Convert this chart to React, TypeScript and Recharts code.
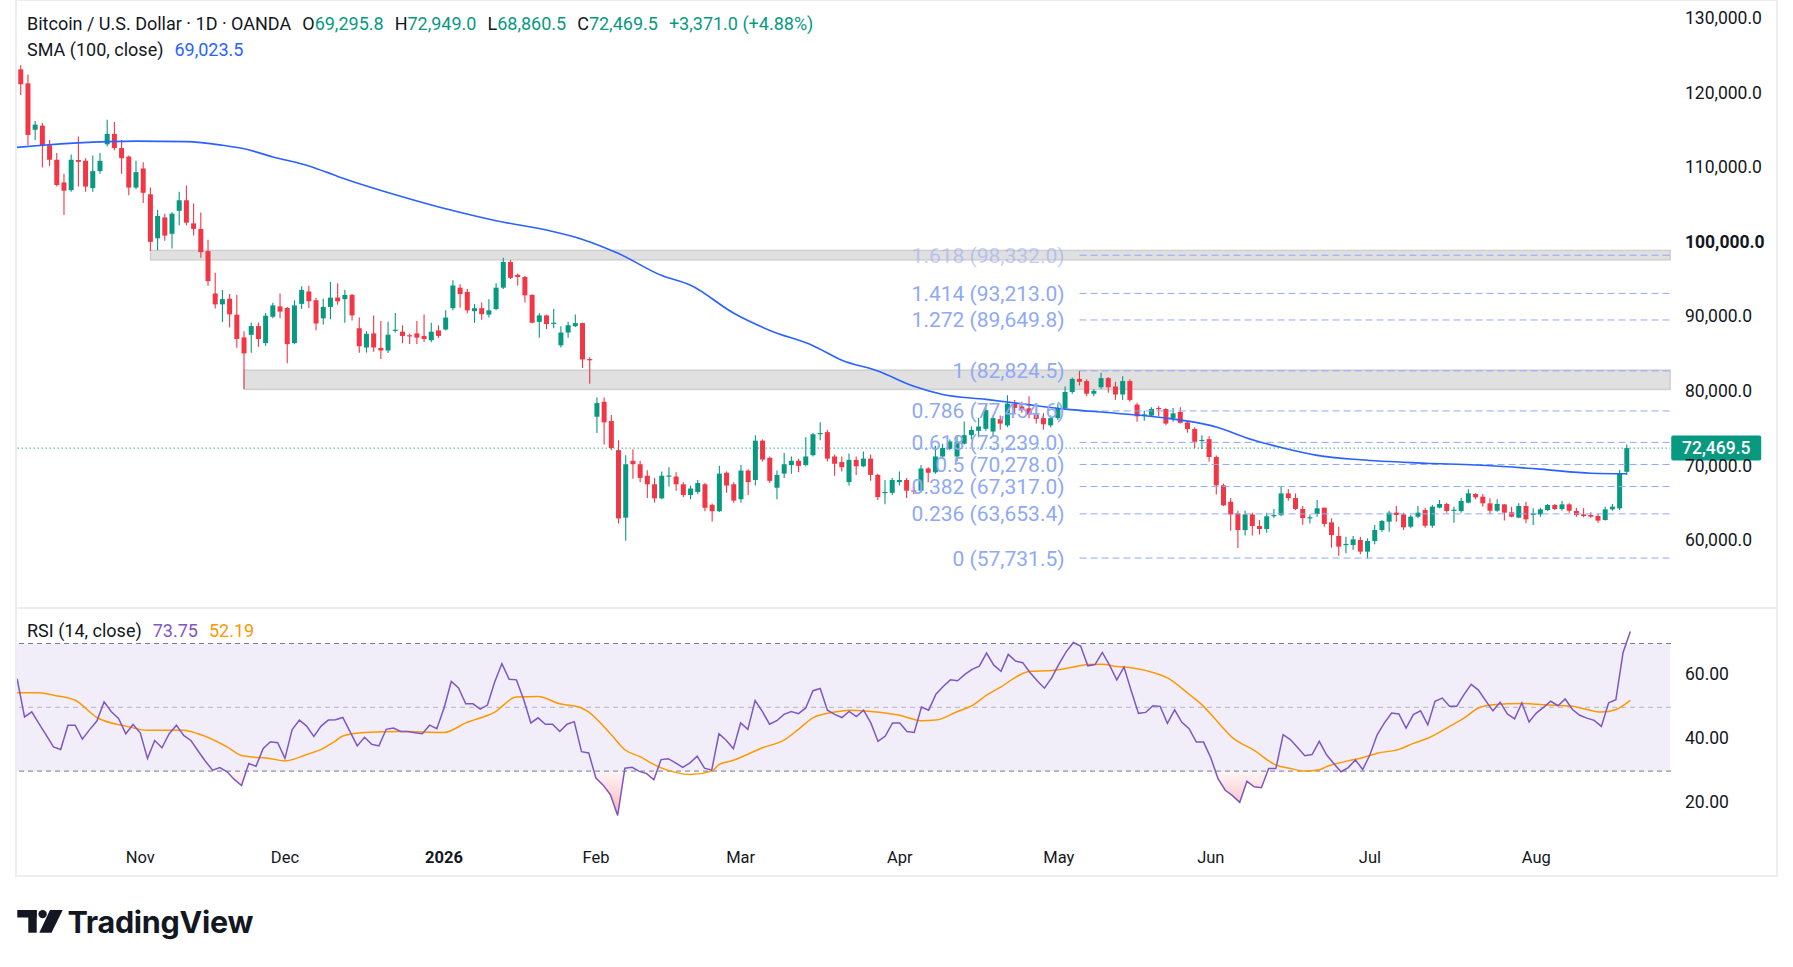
import React from "react";
import { Area, Bar, ComposedChart, Line, ReferenceArea, ReferenceLine, XAxis, YAxis } from "recharts";

const FONT = "Roboto, 'Noto Sans', sans-serif";
const UP = "#089981";
const DOWN = "#f23645";
const TEXT = "#131722";

// daily OHLC, thousands of USD (weekday sessions, first = 2025-10-08)
const opens = [
  122.1, 123.25, 121.38, 115.15, 115.7, 113.07, 111.13, 108.09, 107.05, 111.1, 110.99, 107.33, 109.61, 113.2, 114.6,
  112.7, 111.55, 107.4, 109.96, 106.5, 100.6, 103.4, 101.2, 104.28, 105.7, 102.6, 101.86, 98.88, 93.2, 91.74,
  92.5, 90.36, 87.31, 87.66, 88.83, 86.55, 90.08, 91.47, 91.26, 86.55, 91.81, 93.47, 92.3, 89.87, 91.4,
  92.66, 92.44, 93.01, 88.54, 85.96, 87.85, 85.9, 85.56, 88.3, 88.08, 87.6, 87.85, 87.51, 86.93, 88.25,
  88.37, 91.23, 93.98, 93.41, 90.83, 91.23, 90.37, 91.12, 93.98, 97.42, 95.7, 95.41, 93.01, 89.4, 90.26,
  89.17, 86.25, 87.97, 88.82, 89.23, 84.41, 76.68, 78.68, 76.1, 72.2, 63.15, 70.77, 70.31, 68.77, 67.62,
  65.73, 68.74, 68.66, 67.62, 66.19, 66.59, 67.62, 64.87, 64.01, 69.17, 67.62, 65.62, 69.46, 68.2, 73.47,
  71.17, 67.16, 69.05, 70.2, 70.77, 70.2, 71.52, 74.45, 74.61, 71.35, 70.6, 67.91, 70.89, 70.03, 71.06,
  68.88, 66.54, 66.47, 67.91, 68.2, 66.8, 66.76, 69.74, 69.23, 71.35, 72.38, 71.35, 73.07, 74.21, 74.79,
  75.05, 74.69, 76.35, 75.52, 78.44, 78.05, 77.81, 76.98, 76.49, 75.52, 76.49, 77.81, 80.0, 81.75, 81.46,
  79.76, 80.63, 81.85, 80.73, 79.66, 81.46, 78.3, 76.93, 76.83, 77.85, 77.71, 76.49, 77.32, 75.91, 75.03,
  73.5, 73.67, 71.28, 67.48, 65.28, 63.72, 61.48, 63.58, 62.02, 61.63, 63.43, 63.48, 66.4, 65.77, 64.31,
  63.14, 63.64, 64.49, 62.52, 60.69, 59.55, 59.48, 60.15, 58.59, 60.02, 61.49, 62.61, 63.82, 63.59, 61.94,
  63.28, 64.17, 62.07, 64.49, 64.98, 64.17, 64.04, 65.16, 66.32, 65.96, 65.07, 64.08, 64.93, 63.86, 63.15,
  64.71, 63.5, 63.59, 64.17, 64.84, 64.31, 64.93, 64.04, 63.59, 63.5, 63.37, 62.83, 64.26, 64.4, 69.2958,
];
const highs = [
  123.4, 123.8, 122.56, 116.33, 116.05, 113.77, 112.03, 109.26, 111.83, 114.25, 111.34, 111.7, 112.03, 116.5, 116.2,
  113.77, 111.7, 110.99, 110.79, 107.4, 104.4, 103.9, 104.1, 106.84, 107.67, 105.25, 104.07, 100.4, 95.97, 93.68,
  93.13, 92.99, 88.14, 89.32, 89.32, 90.57, 91.95, 93.2, 91.4, 92.3, 94.17, 94.24, 92.64, 92.5, 94.73,
  94.56, 93.7, 93.12, 89.97, 88.14, 90.26, 89.51, 89.4, 90.6, 88.94, 87.79, 89.51, 90.37, 89.28, 88.94,
  90.94, 94.96, 94.44, 93.81, 91.8, 91.98, 92.44, 94.56, 97.99, 97.71, 95.87, 95.53, 93.1, 90.54, 90.37,
  91.12, 88.82, 89.4, 90.37, 89.3, 84.64, 79.25, 79.25, 76.9, 73.52, 71.52, 72.32, 70.77, 69.51, 68.48,
  69.34, 69.91, 69.23, 67.91, 67.45, 68.2, 67.79, 65.04, 70.09, 69.34, 67.91, 70.2, 69.63, 74.21, 73.64,
  71.35, 69.46, 71.8, 71.35, 71.06, 73.93, 74.5, 75.93, 74.9, 71.63, 71.35, 71.75, 71.35, 72.03, 71.63,
  69.05, 68.2, 68.48, 69.34, 68.48, 67.33, 70.2, 69.91, 72.78, 73.07, 73.64, 74.21, 76.05, 75.36, 76.51,
  78.27, 76.83, 76.83, 79.56, 78.93, 78.69, 79.42, 77.81, 77.13, 76.83, 78.44, 80.73, 81.95, 82.83, 81.71,
  80.39, 82.58, 82.0, 81.36, 82.1, 81.71, 78.54, 77.47, 77.95, 78.1, 77.81, 77.86, 77.95, 76.0, 75.27,
  74.2, 74.06, 71.47, 67.72, 65.77, 64.06, 64.06, 63.82, 62.84, 63.82, 64.31, 67.33, 66.99, 66.4, 64.7,
  63.58, 65.51, 64.49, 63.06, 61.94, 60.6, 60.69, 60.6, 60.38, 62.16, 62.83, 64.08, 64.71, 63.82, 63.5,
  64.71, 64.49, 64.84, 65.51, 65.16, 64.62, 65.83, 66.94, 66.41, 66.32, 65.74, 65.6, 64.93, 64.62, 65.07,
  65.29, 64.4, 64.49, 64.98, 64.98, 65.38, 65.07, 64.49, 64.4, 63.86, 63.72, 64.62, 64.98, 69.54, 72.949,
];
const lows = [
  121.8, 119.8, 113.07, 113.77, 110.1, 110.3, 107.53, 103.72, 106.84, 107.53, 106.84, 106.84, 109.26, 112.9, 112.4,
  109.26, 106.36, 107.19, 105.32, 98.88, 99.0, 100.26, 99.22, 102.34, 102.34, 100.96, 97.98, 94.24, 91.19, 89.39,
  88.63, 85.93, 80.39, 85.24, 86.07, 86.2, 89.87, 89.87, 83.85, 86.41, 91.12, 91.26, 88.28, 89.04, 89.74,
  91.69, 89.28, 89.57, 85.27, 85.27, 85.39, 84.41, 85.21, 87.96, 86.53, 86.42, 86.42, 86.7, 86.65, 87.22,
  88.25, 90.94, 91.29, 90.54, 89.28, 89.68, 89.97, 90.94, 93.81, 95.13, 94.27, 91.98, 89.2, 87.28, 88.42,
  88.54, 85.96, 87.28, 88.71, 83.21, 81.09, 74.5, 72.95, 72.2, 62.35, 60.06, 68.37, 67.91, 65.79, 65.16,
  65.62, 67.33, 66.76, 65.9, 65.62, 66.3, 64.01, 62.64, 63.9, 66.47, 65.16, 65.16, 66.19, 67.45, 70.66,
  67.79, 65.62, 68.48, 69.05, 69.23, 70.03, 71.35, 73.53, 70.66, 68.77, 69.34, 67.45, 68.88, 69.91, 68.08,
  65.5, 64.93, 66.19, 67.45, 65.79, 66.3, 66.47, 67.91, 69.05, 71.06, 72.2, 70.66, 72.95, 73.64, 73.93,
  74.79, 73.91, 74.93, 75.27, 77.22, 77.22, 76.49, 75.76, 74.93, 75.27, 76.25, 77.71, 79.76, 80.88, 79.42,
  79.42, 80.39, 79.9, 78.93, 78.93, 78.69, 76.0, 76.15, 76.73, 76.73, 75.52, 76.0, 75.76, 74.54, 72.45,
  72.35, 70.64, 66.26, 64.7, 61.38, 59.09, 60.75, 60.75, 60.9, 61.14, 63.09, 63.33, 65.43, 64.16, 62.21,
  62.36, 63.28, 61.94, 59.12, 58.05, 58.37, 58.81, 58.23, 57.69, 59.57, 61.27, 61.27, 62.61, 61.49, 61.71,
  63.06, 61.8, 61.8, 64.4, 63.82, 62.48, 63.82, 65.07, 65.6, 64.62, 63.64, 63.95, 62.75, 63.19, 63.06,
  62.39, 62.16, 63.28, 64.04, 64.17, 64.08, 63.82, 63.28, 63.19, 63.15, 62.48, 62.75, 64.08, 64.17, 68.8605,
];
const closes = [
  123.0, 121.25, 114.46, 115.84, 113.07, 111.13, 107.74, 106.98, 111.13, 110.85, 107.53, 109.61, 110.99, 114.6, 112.7,
  111.34, 107.4, 109.47, 106.7, 100.12, 103.6, 100.96, 103.9, 105.7, 102.7, 101.86, 98.74, 94.86, 91.74, 92.44,
  90.4, 87.1, 85.17, 88.83, 87.1, 90.22, 91.6, 90.77, 86.41, 91.6, 93.68, 92.16, 89.18, 91.4, 92.64,
  92.15, 93.01, 90.26, 86.13, 87.79, 85.96, 85.56, 87.68, 88.35, 87.51, 87.5, 87.28, 87.1, 88.08, 87.51,
  89.97, 94.27, 93.12, 90.94, 91.23, 90.43, 90.94, 93.98, 97.42, 95.3, 95.41, 92.95, 89.28, 90.26, 89.11,
  89.28, 87.97, 88.94, 89.23, 84.35, 84.24, 78.51, 75.93, 72.49, 63.04, 70.31, 70.31, 68.48, 67.62, 65.73,
  68.77, 68.8, 67.62, 66.19, 67.05, 67.79, 64.47, 64.01, 69.05, 67.45, 65.44, 69.46, 67.91, 73.47, 70.94,
  68.08, 68.88, 70.31, 70.77, 70.09, 71.35, 74.33, 74.5, 71.06, 70.37, 69.91, 70.89, 70.03, 71.06, 68.88,
  65.9, 66.59, 68.2, 68.2, 66.76, 66.7, 69.74, 69.17, 71.35, 72.49, 73.36, 73.36, 74.21, 74.9, 75.36,
  77.56, 76.49, 75.76, 78.44, 77.86, 77.56, 76.98, 76.39, 75.66, 76.49, 77.81, 80.0, 81.75, 81.36, 79.76,
  80.15, 81.85, 80.63, 79.66, 81.46, 78.93, 76.73, 77.0, 77.71, 77.76, 75.76, 77.13, 75.86, 75.03, 73.32,
  73.57, 71.28, 67.48, 64.8, 63.58, 61.48, 63.58, 62.02, 61.63, 63.33, 63.5, 66.4, 65.77, 64.31, 63.09,
  63.2, 64.4, 62.3, 60.82, 59.26, 59.62, 60.24, 58.59, 60.02, 61.49, 62.7, 63.82, 63.5, 61.85, 63.28,
  63.82, 62.07, 64.62, 64.98, 64.04, 64.22, 65.38, 66.41, 65.87, 65.07, 64.08, 64.98, 63.82, 63.28, 64.71,
  62.92, 63.72, 64.26, 64.84, 64.31, 64.93, 64.08, 63.5, 63.37, 63.28, 62.75, 64.26, 64.62, 69.0985, 72.4695,
];

// RSI (14, close), one value per session
const rsi = [
  61.1, 58.7, 47.0, 48.6, 44.9, 41.3, 37.6, 36.8, 44.4, 44.4, 40.0, 43.0, 45.7, 51.7, 48.6,
  46.5, 41.7, 44.6, 42.0, 34.0, 39.6, 37.3, 41.7, 44.4, 41.2, 39.6, 36.3, 33.1, 30.3, 31.1,
  29.8, 27.4, 25.5, 32.4, 31.5, 37.1, 39.2, 38.9, 34.0, 43.0, 46.0, 44.1, 40.9, 44.1, 46.0,
  46.1, 46.8, 42.4, 37.9, 40.6, 38.4, 37.9, 43.1, 43.5, 42.4, 42.4, 42.0, 41.7, 44.4, 43.3,
  49.8, 58.1, 56.1, 51.1, 51.1, 49.4, 50.7, 57.9, 63.7, 58.8, 58.6, 52.5, 45.1, 46.7, 44.7,
  44.7, 42.4, 44.7, 45.5, 36.1, 35.7, 27.8, 25.6, 22.6, 16.1, 30.9, 31.2, 29.9, 29.2, 27.3,
  33.6, 33.9, 32.6, 31.2, 32.6, 34.7, 30.9, 30.3, 41.7, 39.7, 37.0, 45.1, 43.1, 52.1, 48.7,
  44.7, 45.8, 47.8, 48.7, 48.0, 49.8, 55.2, 55.9, 49.1, 47.8, 46.8, 48.7, 47.1, 49.1, 45.1,
  39.3, 41.0, 45.1, 45.1, 42.4, 42.1, 50.1, 49.1, 54.1, 56.5, 58.6, 58.3, 60.3, 61.9, 62.9,
  67.0, 63.2, 61.3, 66.6, 64.5, 64.0, 60.9, 58.3, 56.0, 59.2, 63.5, 67.4, 70.3, 69.2, 63.0,
  63.4, 67.2, 63.2, 58.6, 62.6, 55.2, 48.1, 48.4, 50.5, 50.3, 45.0, 49.2, 45.3, 43.3, 39.1,
  39.1, 34.2, 27.6, 24.0, 22.3, 20.2, 26.8, 25.1, 24.8, 30.8, 30.8, 41.4, 39.9, 37.4, 34.8,
  35.2, 39.3, 35.1, 32.4, 29.8, 31.1, 33.5, 30.5, 35.1, 41.4, 45.1, 48.2, 47.9, 43.5, 47.7,
  48.9, 44.5, 51.9, 52.9, 50.3, 50.3, 54.0, 57.2, 55.4, 52.1, 48.9, 51.6, 47.9, 46.4, 51.4,
  45.4, 48.2, 50.0, 51.9, 50.5, 52.6, 49.3, 47.5, 46.6, 45.9, 44.0, 51.4, 52.4, 67.2, 73.75,
];

// SMA(100) read at these sessions (thousands of USD)
const smaIdx = [0, 4, 13, 17, 24, 29, 32, 36, 41, 45, 50, 56, 60, 67, 74, 79, 84, 90, 94, 100, 105, 111, 115, 120, 125, 129, 135, 140, 146, 153, 160, 165, 167, 171, 176, 181, 187, 196, 203, 212, 219, 224];
const smaVal = [112.75, 113.07, 113.56, 113.63, 113.56, 113.07, 112.6, 111.5, 110.3, 108.9, 107.3, 105.6, 104.55, 102.95, 101.7, 100.45, 98.55, 95.6, 94.3, 90.55, 88.25, 86.2, 84.25, 82.8, 80.75, 79.65, 79.0, 78.4, 77.7, 77.15, 76.5, 75.75, 75.3, 73.9, 72.55, 71.5, 70.9, 70.45, 70.2, 69.65, 69.1, 69.0235];

// RSI-based MA read at these sessions
const rsiMaIdx = [0, 4, 6, 9, 12, 16, 19, 24, 26, 30, 32, 36, 38, 41, 43, 45, 46, 49, 54, 60, 63, 67, 70, 73, 76, 79, 80, 83, 85, 87, 90, 92, 94, 97, 98, 100, 102, 104, 107, 109, 111, 114, 116, 119, 123, 126, 128, 131, 133, 135, 137, 139, 141, 144, 147, 149, 151, 153, 155, 158, 160, 163, 165, 167, 169, 172, 175, 177, 179, 181, 182, 185, 187, 189, 192, 194, 196, 199, 201, 203, 205, 209, 212, 216, 218, 220, 222, 224];
const rsiMaVal = [54.6, 54.6, 53.8, 52.2, 46.8, 44.1, 42.8, 42.8, 41.7, 37.6, 34.9, 33.9, 33.2, 35.2, 36.8, 39.5, 41.0, 42.1, 42.4, 42.1, 45.1, 48.5, 53.2, 53.4, 51.1, 49.8, 48.5, 41.7, 36.7, 34.6, 31.0, 29.6, 28.9, 30.0, 32.0, 33.4, 35.3, 37.3, 39.7, 43.1, 46.7, 48.5, 49.1, 48.7, 47.5, 45.8, 46.0, 48.7, 50.5, 53.8, 56.4, 59.4, 61.3, 61.5, 62.6, 63.4, 63.5, 62.8, 62.4, 60.9, 59.2, 54.1, 50.3, 45.3, 40.5, 36.5, 31.9, 30.8, 30.0, 30.4, 31.4, 33.2, 34.2, 35.6, 36.8, 38.7, 40.3, 44.0, 46.6, 49.8, 50.8, 51.2, 50.8, 50.3, 49.3, 48.5, 49.3, 52.19];

const fibRatios = ["1.618", "1.414", "1.272", "1", "0.786", "0.618", "0.5", "0.382", "0.236", "0"];
const fibPrices = [98.332, 93.213, 89.6498, 82.8245, 77.4546, 73.239, 70.278, 67.317, 63.6534, 57.7315];
const zoneStart = [19, 32];
const zoneTop = [98.97, 82.92];
const zoneBottom = [97.71, 80.34];

const monthLabels = ["Nov", "Dec", "2026", "Feb", "Mar", "Apr", "May", "Jun", "Jul", "Aug"];
const priceTicks = [60, 70, 80, 90, 100, 110, 120, 130];
const rsiTicks = [20, 40, 60];
const holidays = ["2025-12-25", "2026-01-01"];

const SLOTS = 231;
const FIB_FROM = 148;
const W = 1793;
const PL = 10.06;
const BAND = 7.202;
const AXW = W - PL - SLOTS * BAND;

const days: string[] = [];
{
  const d = new Date(Date.UTC(2025, 9, 8));
  while (days.length < SLOTS) {
    const s = d.toISOString().slice(0, 10);
    const wd = d.getUTCDay();
    if (wd !== 0 && wd !== 6 && !holidays.includes(s)) days.push(s);
    d.setUTCDate(d.getUTCDate() + 1);
  }
}
const monthStarts = days.filter((s, i) => i > 0 && s.slice(0, 7) !== days[i - 1].slice(0, 7)).slice(0, monthLabels.length);
const monthName: Record<string, string> = {};
monthStarts.forEach((s, j) => (monthName[s] = monthLabels[j]));

const data: any[] = days.map((d, i) =>
  i < closes.length
    ? { d, o: opens[i], h: highs[i], l: lows[i], c: closes[i], hl: [lows[i], highs[i]], rsi: rsi[i], os: [Math.min(rsi[i], 30), 30] }
    : { d }
);
smaIdx.forEach((k, j) => (data[k].sma = smaVal[j]));
rsiMaIdx.forEach((k, j) => (data[k].rsiMa = rsiMaVal[j]));

const last = closes.length - 1;
const fmt = (v: number, dec = 1) => v.toLocaleString("en-US", { minimumFractionDigits: dec, maximumFractionDigits: dec });
const usd = (k: number) => fmt(Math.round(k * 10000) / 10);
// a fib label sitting well inside a grey zone is drawn under its tint
const underZone = (v: number) => zoneTop.some((t, j) => v < t - 0.3 && v > zoneBottom[j] + 0.3);

const Candle = (p: any) => {
  const { x, y, width, height, payload } = p;
  if (!payload || payload.o == null) return null;
  const { o, h, l, c } = payload;
  const span = h - l || 1;
  const py = (v: number) => y + ((h - v) / span) * height;
  const col = c >= o ? UP : DOWN;
  const top = py(Math.max(o, c));
  const bot = py(Math.min(o, c));
  const cx = x + width / 2;
  return (
    <g>
      <line x1={cx} x2={cx} y1={y} y2={y + height} stroke={col} strokeWidth={1.1} />
      <rect x={x} y={top} width={width} height={Math.max(bot - top, 1.2)} fill={col} />
    </g>
  );
};

const Zone = (p: any) => (
  <rect x={p.x + BAND / 2} y={p.y} width={p.width - BAND} height={p.height} fill="#000" fillOpacity={0.12} stroke="#cfcfcf" strokeWidth={1.5} />
);
const Band = (p: any) => <rect x={p.x} y={p.y} width={p.width - BAND / 2} height={p.height} fill="#7e57c2" fillOpacity={0.1} />;

const PriceTick = (p: any) => {
  const v = p.payload.value;
  return (
    <text x={1685} y={p.y - 1} dominantBaseline="central" fontFamily={FONT} fontSize={17.5} fill={TEXT} fontWeight={v === 100 ? 700 : 400}>
      {fmt(v * 1000)}
    </text>
  );
};
const RsiTick = (p: any) => (
  <text x={1685} y={p.y - 1} dominantBaseline="central" fontFamily={FONT} fontSize={17.5} fill={TEXT}>
    {fmt(p.payload.value, 2)}
  </text>
);
const TimeTick = (p: any) => {
  const lab = monthName[p.payload.value] || "";
  return (
    <text x={p.x} y={249} textAnchor="middle" dominantBaseline="central" fontFamily={FONT} fontSize={16.5} fill={TEXT} fontWeight={/^\d+$/.test(lab) ? 700 : 400}>
      {lab}
    </text>
  );
};
const LastTag = (p: any) => {
  const vb = p.viewBox;
  const right = vb.x + vb.width + BAND / 2;
  return (
    <g>
      <rect x={right - 2.5} y={vb.y - 12.5} width={90} height={25} rx={2} fill={UP} />
      <text x={right + 42.5} y={vb.y} textAnchor="middle" dominantBaseline="central" fontFamily={FONT} fontSize={17.5} fontWeight={500} fill="#fff">
        {usd(closes[last])}
      </text>
    </g>
  );
};

const abs = (left: number, top: number, extra: React.CSSProperties = {}): React.CSSProperties => ({ position: "absolute", left, top, ...extra });

export default function App() {
  const chg = (closes[last] - closes[last - 1]) * 1000;
  const pct = (chg / (closes[last - 1] * 1000)) * 100;
  const legend: React.CSSProperties = { fontFamily: FONT, fontSize: 18, color: TEXT, whiteSpace: "nowrap", lineHeight: "22px", display: "flex", gap: 11 };
  return (
    <div style={abs(0, 0, { width: W, height: 967, background: "#fff", overflow: "hidden" })}>
      <div style={abs(0, 0)}>
        <ComposedChart width={W} height={608} data={data} margin={{ top: 0, right: 0, bottom: 0, left: PL }}>
          <XAxis dataKey="d" hide />
          <YAxis orientation="right" width={AXW} domain={[51.035, 132.547]} allowDataOverflow ticks={priceTicks} tick={<PriceTick />} axisLine={false} tickLine={false} />
          {fibPrices.map((v, j) => (
            <ReferenceLine
              key={"f" + j}
              segment={[{ x: days[FIB_FROM], y: v }, { x: days[SLOTS - 1], y: v }]}
              stroke="#8fa9f7"
              strokeDasharray="7 4"
              strokeWidth={1}
              label={{
                value: `${fibRatios[j]} (${usd(v)})`,
                position: "left",
                offset: 15,
                fill: "#8fa9f7",
                fillOpacity: underZone(v) ? 0.55 : 1,
                fontSize: 21,
                fontFamily: FONT,
              }}
            />
          ))}
          {zoneStart.map((s, j) => (
            <ReferenceArea key={"z" + j} x1={days[s]} x2={days[SLOTS - 1]} y1={zoneBottom[j]} y2={zoneTop[j]} shape={<Zone />} />
          ))}
          <Bar dataKey="hl" barSize={5} shape={<Candle />} isAnimationActive={false} />
          <Line dataKey="sma" type="monotone" stroke="#2962ff" strokeWidth={1.6} dot={false} connectNulls isAnimationActive={false} />
          <ReferenceLine
            segment={[{ x: days[0], y: closes[last] }, { x: days[SLOTS - 1], y: closes[last] }]}
            stroke={UP}
            strokeDasharray="1 3"
            strokeWidth={1.2}
            label={<LastTag />}
          />
        </ComposedChart>
      </div>

      <div style={abs(0, 608)}>
        <ComposedChart width={W} height={268} data={data} margin={{ top: 0, right: 0, bottom: 0, left: PL }}>
          <defs>
            <linearGradient id="osFill" x1="0" y1="0" x2="0" y2="1">
              <stop offset="0%" stopColor={DOWN} stopOpacity={0.04} />
              <stop offset="100%" stopColor={DOWN} stopOpacity={0.38} />
            </linearGradient>
          </defs>
          <XAxis dataKey="d" ticks={monthStarts} interval={0} tick={<TimeTick />} axisLine={false} tickLine={false} height={36} />
          <YAxis orientation="right" width={AXW} domain={[8.4, 81.13]} allowDataOverflow ticks={rsiTicks} tick={<RsiTick />} axisLine={false} tickLine={false} />
          <ReferenceArea y1={30} y2={70} shape={<Band />} />
          <ReferenceLine segment={[{ x: days[0], y: 70 }, { x: days[SLOTS - 1], y: 70 }]} stroke="#787b86" strokeDasharray="5 4" />
          <ReferenceLine segment={[{ x: days[0], y: 50 }, { x: days[SLOTS - 1], y: 50 }]} stroke="#b2b5be" strokeDasharray="5 4" />
          <ReferenceLine segment={[{ x: days[0], y: 30 }, { x: days[SLOTS - 1], y: 30 }]} stroke="#787b86" strokeDasharray="5 4" />
          <Area dataKey="os" stroke="none" fill="url(#osFill)" fillOpacity={1} isAnimationActive={false} />
          <Line dataKey="rsiMa" type="monotone" stroke="#ff9800" strokeWidth={1.5} dot={false} connectNulls isAnimationActive={false} />
          <Line dataKey="rsi" type="linear" stroke="#7e57c2" strokeWidth={1.5} dot={false} isAnimationActive={false} />
        </ComposedChart>
      </div>

      {/* frame */}
      <div style={abs(0, 0, { width: 15, height: 878, background: "#fff" })} />
      <div style={abs(15, 0, { width: 1763, height: 877, boxSizing: "border-box", border: "2px solid #eceef2", borderTopWidth: 1 })} />
      <div style={abs(15, 606.5, { width: 1763, height: 2, background: "#eceef2" })} />

      {/* legends */}
      <div style={abs(27, 12.5, legend)}>
        <span>Bitcoin / U.S. Dollar · 1D · OANDA</span>
        <span>
          O<span style={{ color: UP }}>{usd(opens[last])}</span>
        </span>
        <span>
          H<span style={{ color: UP }}>{usd(highs[last])}</span>
        </span>
        <span>
          L<span style={{ color: UP }}>{usd(lows[last])}</span>
        </span>
        <span>
          C<span style={{ color: UP }}>{usd(closes[last])}</span>
        </span>
        <span style={{ color: UP }}>
          +{fmt(chg)} (+{fmt(pct, 2)}%)
        </span>
      </div>
      <div style={abs(27, 39, legend)}>
        <span>SMA (100, close)</span>
        <span style={{ color: "#2962ff" }}>{usd(smaVal[smaVal.length - 1])}</span>
      </div>
      <div style={abs(27, 620, legend)}>
        <span>RSI (14, close)</span>
        <span style={{ color: "#7e57c2" }}>{fmt(rsi[last], 2)}</span>
        <span style={{ color: "#ff9800" }}>{fmt(rsiMaVal[rsiMaVal.length - 1], 2)}</span>
      </div>

      {/* logo */}
      <svg style={abs(0, 890)} width={300} height={60}>
        <g fill={TEXT}>
          <rect x={17.3} y={20} width={19.4} height={7.5} />
          <rect x={28.3} y={20} width={8.4} height={22.7} />
          <circle cx={42.6} cy={24.1} r={4.2} />
          <polygon points="50,20 62.7,20 51.5,42.7 39.3,42.7" />
          <text x={67.5} y={42.7} fontFamily="Inter, Roboto, sans-serif" fontWeight={700} fontSize={30.5} letterSpacing={-0.3}>
            TradingView
          </text>
        </g>
      </svg>
    </div>
  );
}
